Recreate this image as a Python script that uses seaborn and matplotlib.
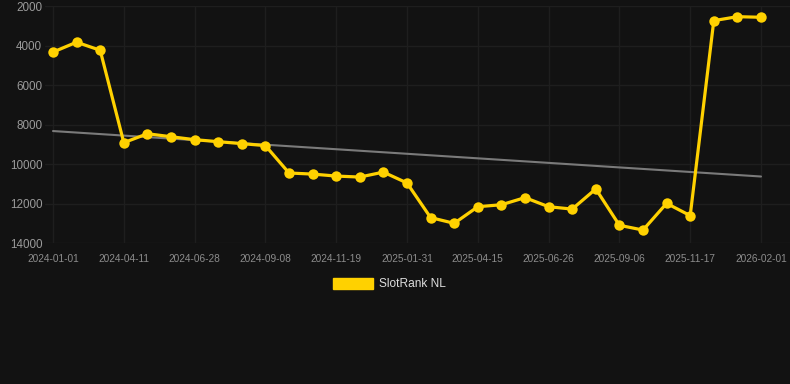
import numpy as np
import pandas as pd
import matplotlib
matplotlib.use("Agg")
import matplotlib.pyplot as plt
import matplotlib.patches as mpatches
import seaborn as sns

# ---- data ----
tick_labels = ["2024-01-01", "2024-04-11", "2024-06-28", "2024-09-08", "2024-11-19",
               "2025-01-31", "2025-04-15", "2025-06-26", "2025-09-06", "2025-11-17",
               "2026-02-01"]
rank_values = [4330, 3830, 4240, 8910, 8460, 8610, 8760, 8860, 8960, 9060,
               10445, 10500, 10600, 10650, 10400, 10950, 12700, 12990, 12150, 12050,
               11690, 12150, 12270, 11250, 13090, 13330, 11980, 12600, 2740, 2540, 2570]
series_name = "SlotRank NL"
y_ticks = [2000, 4000, 6000, 8000, 10000, 12000, 14000]

BG = "#121212"
GRID = "#1e1e1e"
LINE = "#FFD100"
TREND = "#7a7a7a"
TICKC = "#8c8c8c"

sns.set_theme(style="dark")
plt.rcParams["font.family"] = ["Liberation Sans", "DejaVu Sans"]

idx = np.arange(len(rank_values))
df = pd.DataFrame({"idx": idx, "rank": rank_values})

fig = plt.figure(figsize=(7.9, 3.84), dpi=100, facecolor=BG)
ax = fig.add_axes([45 / 790, 1 - 243.3 / 384, 1 - 45 / 790, (243.3 - 6) / 384])
ax.set_facecolor(BG)

# trend line (least squares)
coef = np.polyfit(idx, rank_values, 1)
trend = np.polyval(coef, idx)
sns.lineplot(x=idx, y=trend, ax=ax, color=TREND, linewidth=1.5, zorder=2, legend=False)

sns.lineplot(data=df, x="idx", y="rank", ax=ax, color=LINE, linewidth=2.3,
             marker="o", markersize=7.5, markeredgewidth=0, zorder=3, legend=False)

ax.set_ylim(14000, 2000)
ax.set_xlim(-(53 - 45) / 23.6, 30 + (790 - 761) / 23.6)
ax.set_yticks(y_ticks)
ax.set_yticklabels([str(v) for v in y_ticks])
ax.set_xticks(idx[::3])
ax.set_xticklabels(tick_labels)
ax.set_xlabel("")
ax.set_ylabel("")

ax.grid(True, color=GRID, linewidth=1)
for s in ax.spines.values():
    s.set_visible(False)
ax.tick_params(axis="y", length=0, pad=2, labelsize=8.4, labelcolor="#9a9a9a")
ax.tick_params(axis="x", length=5, width=1, color=GRID, pad=3, labelsize=7.3, labelcolor=TICKC)

handle = mpatches.Patch(facecolor=LINE, edgecolor=LINE, label=series_name)
leg = fig.legend(handles=[handle], loc="center", bbox_to_anchor=(0.493, 1 - 284 / 384),
                 frameon=False, fontsize=8.6, handlelength=3.35, handleheight=1.1,
                 handletextpad=0.55)
for t in leg.get_texts():
    t.set_color("#dddddd")

fig.savefig("out.png", dpi=100, facecolor=BG)
